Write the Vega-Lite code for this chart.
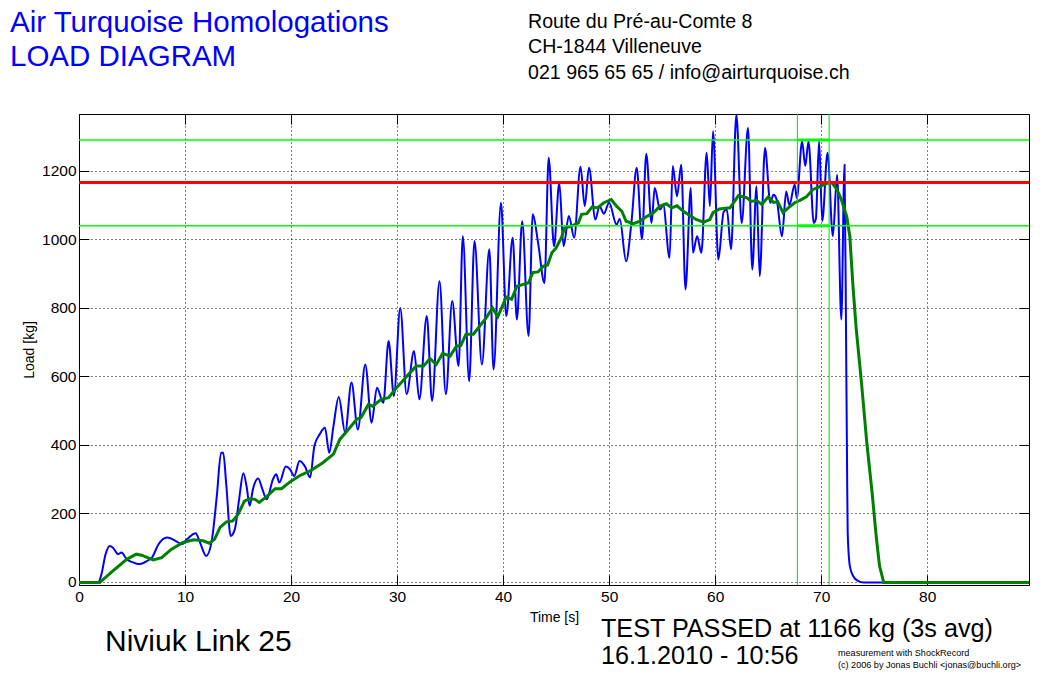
{
  "$schema": "https://vega.github.io/schema/vega-lite/v6.json",
  "autosize": "none",
  "width": 950,
  "height": 471,
  "padding": {"left": 79, "top": 114, "right": 26, "bottom": 89},
  "background": "white",
  "config": {"font": "Liberation Sans", "view": {"stroke": null}},
  "datasets": {
    "load": [
      {"t":0,"kg":-2},{"t":1.0,"kg":-2},{"t":1.8,"kg":-2},{"t":2.1,"kg":20},{"t":2.5,"kg":80},{"t":2.9,"kg":105},{"t":3.2,"kg":100},{"t":3.7,"kg":81},{"t":4.0,"kg":86},{"t":4.5,"kg":66},{"t":5.1,"kg":57},{"t":5.6,"kg":52},{"t":6.4,"kg":61},{"t":6.9,"kg":72},{"t":7.5,"kg":110},{"t":8.3,"kg":130},{"t":9.1,"kg":120},{"t":9.7,"kg":110},{"t":10.2,"kg":125},{"t":11.0,"kg":142},{"t":11.4,"kg":116},{"t":12.0,"kg":76},{"t":12.5,"kg":116},{"t":13.0,"kg":251},{"t":13.4,"kg":377},{"t":13.6,"kg":377},{"t":13.9,"kg":280},{"t":14.3,"kg":134},{"t":14.7,"kg":154},{"t":15.1,"kg":241},{"t":15.5,"kg":317},{"t":15.8,"kg":280},{"t":16.1,"kg":222},{"t":16.4,"kg":270},{"t":16.9,"kg":302},{"t":17.3,"kg":270},{"t":17.7,"kg":241},{"t":18.3,"kg":300},{"t":18.6,"kg":314},{"t":18.9,"kg":290},{"t":19.5,"kg":337},{"t":19.9,"kg":329},{"t":20.3,"kg":309},{"t":20.8,"kg":353},{"t":21.3,"kg":338},{"t":21.8,"kg":305},{"t":22.2,"kg":397},{"t":22.7,"kg":431},{"t":23.2,"kg":450},{"t":23.6,"kg":377},{"t":24.0,"kg":455},{"t":24.5,"kg":540},{"t":25.1,"kg":436},{"t":25.7,"kg":582},{"t":26.3,"kg":445},{"t":27.0,"kg":635},{"t":27.6,"kg":465},{"t":28.1,"kg":567},{"t":28.7,"kg":523},{"t":29.2,"kg":703},{"t":29.7,"kg":543},{"t":30.3,"kg":800},{"t":30.9,"kg":548},{"t":31.6,"kg":674},{"t":32.1,"kg":533},{"t":32.8,"kg":776},{"t":33.3,"kg":528},{"t":34.0,"kg":878},{"t":34.6,"kg":548},{"t":35.2,"kg":820},{"t":35.8,"kg":630},{"t":36.2,"kg":1009},{"t":36.8,"kg":586},{"t":37.3,"kg":995},{"t":38.0,"kg":635},{"t":38.7,"kg":971},{"t":39.1,"kg":620},{"t":39.8,"kg":1107},{"t":40.3,"kg":776},{"t":40.9,"kg":1005},{"t":41.3,"kg":766},{"t":41.8,"kg":1053},{"t":42.4,"kg":718},{"t":42.8,"kg":1073},{"t":43.3,"kg":990},{"t":43.9,"kg":873},{"t":44.3,"kg":1238},{"t":44.8,"kg":980},{"t":45.3,"kg":1165},{"t":45.7,"kg":980},{"t":46.2,"kg":1068},{"t":46.7,"kg":1005},{"t":47.3,"kg":1212},{"t":47.7,"kg":1097},{"t":48.1,"kg":1209},{"t":48.7,"kg":1058},{"t":49.1,"kg":1097},{"t":49.5,"kg":1075},{"t":50.0,"kg":1107},{"t":50.7,"kg":1043},{"t":51.0,"kg":1060},{"t":51.6,"kg":936},{"t":52.1,"kg":1048},{"t":52.6,"kg":1209},{"t":53.1,"kg":1000},{"t":53.5,"kg":1250},{"t":54.0,"kg":1048},{"t":54.3,"kg":1150},{"t":54.8,"kg":1087},{"t":55.1,"kg":1100},{"t":55.7,"kg":946},{"t":56.0,"kg":1214},{"t":56.4,"kg":1126},{"t":56.8,"kg":1218},{"t":57.2,"kg":854},{"t":57.7,"kg":1150},{"t":57.9,"kg":961},{"t":58.3,"kg":1009},{"t":58.7,"kg":961},{"t":59.2,"kg":1253},{"t":59.5,"kg":1097},{"t":59.8,"kg":1316},{"t":60.3,"kg":941},{"t":60.8,"kg":1080},{"t":61.1,"kg":1087},{"t":61.5,"kg":971},{"t":62.0,"kg":1364},{"t":62.5,"kg":1048},{"t":63.1,"kg":1325},{"t":63.5,"kg":912},{"t":63.9,"kg":1155},{"t":64.2,"kg":893},{"t":64.7,"kg":1267},{"t":65.2,"kg":1107},{"t":65.5,"kg":1130},{"t":65.8,"kg":1116},{"t":66.3,"kg":1009},{"t":66.7,"kg":1140},{"t":67.0,"kg":1100},{"t":67.5,"kg":1160},{"t":67.7,"kg":1120},{"t":68.2,"kg":1286},{"t":68.5,"kg":1214},{"t":68.8,"kg":1286},{"t":69.3,"kg":1048},{"t":69.5,"kg":1060},{"t":69.8,"kg":1286},{"t":70.1,"kg":1053},{"t":70.6,"kg":1253},{"t":71.1,"kg":1009},{"t":71.5,"kg":1189},{"t":71.9,"kg":766},{"t":72.2,"kg":1218},{"t":72.35,"kg":700},{"t":72.45,"kg":300},{"t":72.5,"kg":145},{"t":72.7,"kg":47},{"t":73.0,"kg":18},{"t":73.5,"kg":2},{"t":74.0,"kg":-2},{"t":89.6,"kg":-2}
    ],
    "avg": [
      {"t":0,"kg":-2},{"t":1.95,"kg":-2},{"t":3.2,"kg":32},{"t":4.5,"kg":66},{"t":5.4,"kg":81},{"t":5.9,"kg":78},{"t":7.0,"kg":64},{"t":7.8,"kg":71},{"t":8.7,"kg":95},{"t":9.8,"kg":115},{"t":10.8,"kg":123},{"t":11.7,"kg":120},{"t":12.3,"kg":113},{"t":12.8,"kg":125},{"t":13.3,"kg":159},{"t":13.9,"kg":175},{"t":14.5,"kg":178},{"t":15.0,"kg":197},{"t":15.6,"kg":236},{"t":16.1,"kg":243},{"t":16.6,"kg":241},{"t":17.0,"kg":232},{"t":17.7,"kg":249},{"t":18.5,"kg":272},{"t":19.1,"kg":272},{"t":19.9,"kg":292},{"t":20.8,"kg":310},{"t":21.8,"kg":324},{"t":23.0,"kg":348},{"t":24.0,"kg":373},{"t":24.6,"kg":416},{"t":25.4,"kg":445},{"t":26.2,"kg":475},{"t":26.6,"kg":480},{"t":27.3,"kg":518},{"t":27.7,"kg":513},{"t":28.5,"kg":533},{"t":29.2,"kg":538},{"t":29.8,"kg":562},{"t":30.4,"kg":582},{"t":31.0,"kg":603},{"t":31.8,"kg":630},{"t":32.5,"kg":630},{"t":33.1,"kg":652},{"t":33.7,"kg":635},{"t":34.3,"kg":667},{"t":35.0,"kg":659},{"t":35.6,"kg":688},{"t":36.0,"kg":690},{"t":36.5,"kg":723},{"t":37.2,"kg":723},{"t":37.8,"kg":747},{"t":38.4,"kg":771},{"t":39.0,"kg":800},{"t":39.5,"kg":774},{"t":40.3,"kg":832},{"t":40.8,"kg":825},{"t":41.3,"kg":863},{"t":42.4,"kg":873},{"t":42.8,"kg":903},{"t":43.3,"kg":905},{"t":43.8,"kg":922},{"t":44.2,"kg":925},{"t":44.6,"kg":961},{"t":45.0,"kg":975},{"t":45.5,"kg":1005},{"t":45.8,"kg":1034},{"t":46.4,"kg":1038},{"t":47.1,"kg":1048},{"t":47.4,"kg":1073},{"t":47.9,"kg":1075},{"t":48.4,"kg":1095},{"t":48.9,"kg":1092},{"t":49.5,"kg":1107},{"t":50.2,"kg":1116},{"t":50.7,"kg":1097},{"t":51.2,"kg":1082},{"t":51.6,"kg":1053},{"t":52.3,"kg":1046},{"t":52.9,"kg":1053},{"t":53.5,"kg":1066},{"t":54.2,"kg":1078},{"t":54.8,"kg":1097},{"t":55.4,"kg":1104},{"t":55.9,"kg":1092},{"t":56.4,"kg":1098},{"t":57.0,"kg":1082},{"t":57.6,"kg":1070},{"t":58.2,"kg":1058},{"t":58.9,"kg":1050},{"t":59.5,"kg":1058},{"t":59.8,"kg":1078},{"t":60.4,"kg":1089},{"t":61.4,"kg":1092},{"t":62.2,"kg":1128},{"t":63.0,"kg":1121},{"t":63.4,"kg":1111},{"t":63.9,"kg":1114},{"t":64.4,"kg":1102},{"t":65.0,"kg":1124},{"t":65.5,"kg":1108},{"t":65.9,"kg":1110},{"t":66.4,"kg":1078},{"t":66.9,"kg":1092},{"t":67.5,"kg":1107},{"t":68.0,"kg":1114},{"t":68.6,"kg":1124},{"t":69.2,"kg":1145},{"t":69.9,"kg":1155},{"t":70.5,"kg":1163},{"t":71.0,"kg":1166},{"t":71.5,"kg":1145},{"t":71.9,"kg":1116},{"t":72.4,"kg":1068},{"t":72.7,"kg":1009},{"t":73.0,"kg":863},{"t":73.3,"kg":740},{"t":73.8,"kg":582},{"t":74.3,"kg":407},{"t":74.6,"kg":320},{"t":74.8,"kg":261},{"t":75.2,"kg":130},{"t":75.5,"kg":47},{"t":75.9,"kg":-2},{"t":89.6,"kg":-2}
    ],
    "limits": [{"kg":1290},{"kg":1040}],
    "passed": [{"kg":1166}],
    "window": [{"t":67.75},{"t":70.75}],
    "bracket": [{"t0":67.75,"t1":70.75,"kg":1290},{"t0":67.75,"t1":70.75,"kg":1040}]
  },
  "resolve": {"axis": {"x": "independent", "y": "independent"}},
  "layer": [
    {
      "data": {"name": "load"},
      "mark": {"type": "line", "color": "#0000ff", "strokeWidth": 2, "interpolate": "monotone", "clip": true},
      "encoding": {
        "x": {"field": "t", "type": "quantitative",
          "scale": {"domain": [0, 89.6], "nice": false, "zero": false},
          "axis": {"orient": "bottom", "values": [0,10,20,30,40,50,60,70,80], "grid": true, "gridColor": "black", "gridDash": [1,3], "gridOpacity": 1, "gridWidth": 1,
            "tickSize": -10, "tickColor": "black", "domainColor": "black", "labelPadding": 14, "labelFontSize": 15.5, "labelColor": "black", "labelFlush": false,
            "title": "Time [s]", "titleFontWeight": "normal", "titleFontSize": 14, "titleColor": "black", "titlePadding": 6}},
        "y": {"field": "kg", "type": "quantitative",
          "scale": {"domain": [-9, 1366], "nice": false, "zero": false},
          "axis": {"orient": "left", "values": [0,200,400,600,800,1000,1200], "format": "d", "grid": true, "gridColor": "black", "gridDash": [1,3], "gridOpacity": 1, "gridWidth": 1,
            "tickSize": -10, "tickColor": "black", "domainColor": "black", "labelPadding": 13, "labelFontSize": 15.5, "labelColor": "black",
            "title": "Load [kg]", "titleFontWeight": "normal", "titleFontSize": 14, "titleColor": "black", "titlePadding": 5}}
      }
    },
    {
      "data": {"name": "avg"},
      "mark": {"type": "line", "color": "#008000", "strokeWidth": 3, "clip": true},
      "encoding": {
        "x": {"field": "t", "type": "quantitative",
          "axis": {"orient": "top", "values": [0,10,20,30,40,50,60,70,80], "grid": false, "labels": false, "tickSize": -10, "tickColor": "black", "domainColor": "black", "title": null}},
        "y": {"field": "kg", "type": "quantitative",
          "axis": {"orient": "right", "values": [0,200,400,600,800,1000,1200], "grid": false, "labels": false, "tickSize": -10, "tickColor": "black", "domainColor": "black", "title": null}}
      }
    },
    {
      "data": {"name": "limits"},
      "mark": {"type": "rule", "color": "#00ff00", "strokeWidth": 1.5},
      "encoding": {"y": {"field": "kg", "type": "quantitative", "axis": null}}
    },
    {
      "data": {"name": "passed"},
      "mark": {"type": "rule", "color": "#ff0000", "strokeWidth": 3},
      "encoding": {"y": {"field": "kg", "type": "quantitative", "axis": null}}
    },
    {
      "data": {"name": "window"},
      "mark": {"type": "rule", "color": "#00dd00", "strokeWidth": 1},
      "encoding": {"x": {"field": "t", "type": "quantitative", "axis": null}}
    },
    {
      "data": {"name": "bracket"},
      "mark": {"type": "rule", "color": "#00ff00", "strokeWidth": 3},
      "encoding": {
        "x": {"field": "t0", "type": "quantitative", "axis": null},
        "x2": {"field": "t1"},
        "y": {"field": "kg", "type": "quantitative", "axis": null}
      }
    },
    {
      "data": {"values": [{"label": "Air Turquoise Homologations\nLOAD DIAGRAM"}]},
      "mark": {"type": "text", "align": "left", "baseline": "alphabetic", "fontSize": 29.5, "color": "#0000ff", "lineBreak": "\n", "lineHeight": 34},
      "encoding": {
        "x": {"datum": -6.51, "type": "quantitative", "axis": null},
        "y": {"datum": 1605.5, "type": "quantitative", "axis": null},
        "text": {"field": "label"}
      }
    },
    {
      "data": {"values": [{"label": "Route du Pré-au-Comte 8\nCH-1844 Villeneuve\n021 965 65 65 / info@airturquoise.ch"}]},
      "mark": {"type": "text", "align": "left", "baseline": "alphabetic", "fontSize": 19.6, "color": "black", "lineBreak": "\n", "lineHeight": 25.5},
      "encoding": {
        "x": {"datum": 42.35, "type": "quantitative", "axis": null},
        "y": {"datum": 1617.2, "type": "quantitative", "axis": null},
        "text": {"field": "label"}
      }
    },
    {
      "data": {"values": [{"label": "Niviuk Link 25"}]},
      "mark": {"type": "text", "align": "left", "baseline": "alphabetic", "fontSize": 30, "color": "black"},
      "encoding": {
        "x": {"datum": 2.45, "type": "quantitative", "axis": null},
        "y": {"datum": -201.8, "type": "quantitative", "axis": null},
        "text": {"field": "label"}
      }
    },
    {
      "data": {"values": [{"label": "TEST PASSED at 1166 kg (3s avg)\n16.1.2010 - 10:56"}]},
      "mark": {"type": "text", "align": "left", "baseline": "alphabetic", "fontSize": 25.2, "color": "black", "lineBreak": "\n", "lineHeight": 27},
      "encoding": {
        "x": {"datum": 49.23, "type": "quantitative", "axis": null},
        "y": {"datum": -160.9, "type": "quantitative", "axis": null},
        "text": {"field": "label"}
      }
    },
    {
      "data": {"values": [{"label": "measurement with ShockRecord\n(c) 2006 by Jonas Buchli <jonas@buchli.org>"}]},
      "mark": {"type": "text", "align": "left", "baseline": "alphabetic", "fontSize": 9.1, "color": "black", "lineBreak": "\n", "lineHeight": 12},
      "encoding": {
        "x": {"datum": 71.58, "type": "quantitative", "axis": null},
        "y": {"datum": -216.4, "type": "quantitative", "axis": null},
        "text": {"field": "label"}
      }
    }
  ]
}
